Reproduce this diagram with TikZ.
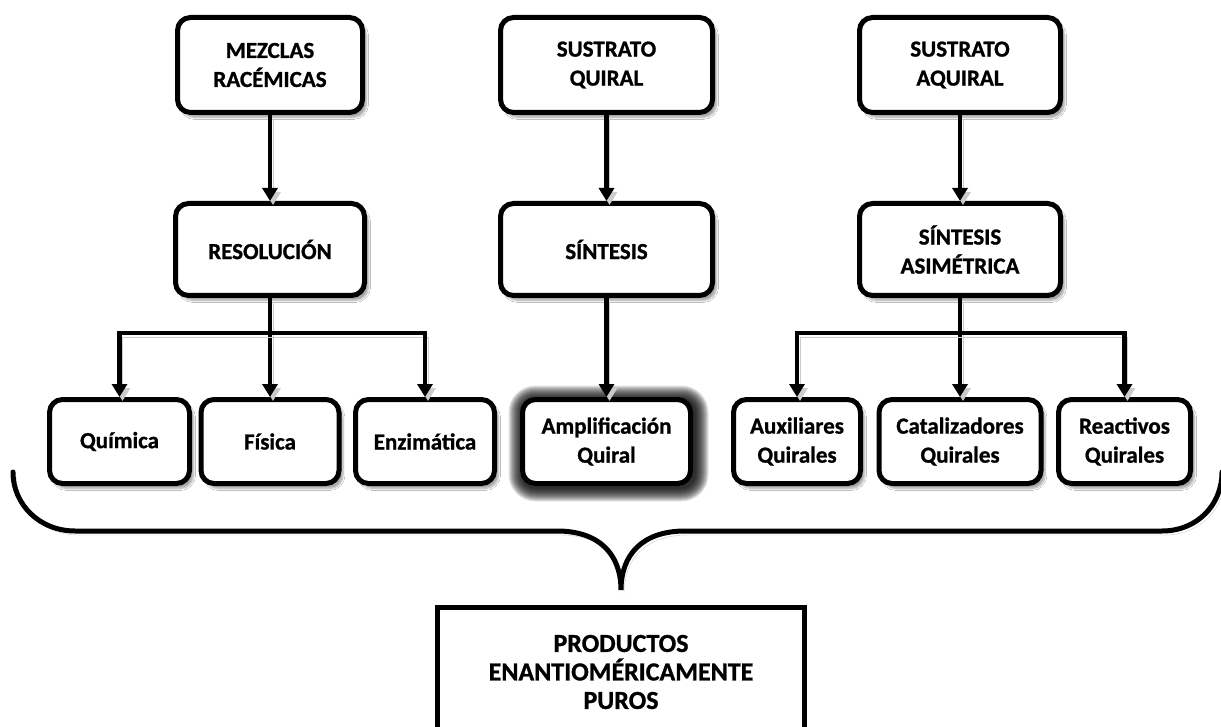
\documentclass[tikz,border=0pt]{standalone}
\usepackage{fontspec}
\setmainfont{Carlito}[BoldFeatures={FakeBold=1}]
\usetikzlibrary{arrows.meta,shadows.blur}
\tikzset{
  basebox/.style={draw=black, line width=5pt, rounded corners=13pt, fill=white,
    align=center, inner sep=0pt, text=black,
    font=\bfseries\fontsize{23}{29}\selectfont},
  box/.style={basebox,
    blur shadow={shadow xshift=4pt, shadow yshift=-5pt, shadow blur steps=6, shadow opacity=35}},
  glowlayer/.style={fill=black, fill opacity=0.11},
  lshadow/.style={preaction={draw=black!20, transform canvas={xshift=3pt,yshift=-4pt}}},
  conn/.style={line width=4.5pt, draw=black, lshadow},
  arr/.style={conn, -{Triangle[length=13pt,width=15pt]}},
  brace/.style={line width=5pt, draw=black, line cap=round, lshadow},
}
\begin{document}
\begin{tikzpicture}[x=1pt,y=-1pt]
\clip (0,0) rectangle (1221,727);
\fill[white] (0,0) rectangle (1221,727);
% glow behind the highlighted box
\foreach \i in {1,...,14}{
  \fill[glowlayer, rounded corners=13pt+\i pt] (522.5-\i,399.5-\i) rectangle (694.5+\i,487.5+\i);
}
% top row
\node[box, minimum width=185, minimum height=95] (mez) at (270,65) {MEZCLAS\\RACÉMICAS};
\node[box, minimum width=212, minimum height=95] (sq) at (606.5,65) {SUSTRATO\\QUIRAL};
\node[box, minimum width=201, minimum height=95] (sa) at (960,65) {SUSTRATO\\AQUIRAL};
% middle row
\node[box, minimum width=189, minimum height=92] (res) at (270,249.5) {RESOLUCIÓN};
\node[box, minimum width=212, minimum height=92] (sin) at (606.5,249.5) {SÍNTESIS};
\node[box, minimum width=201, minimum height=92] (sas) at (960,249.5) {SÍNTESIS\\ASIMÉTRICA};
% bottom row
\node[box, minimum width=140, minimum height=84] (qui) at (119.5,441.5) {Química};
\node[box, minimum width=138, minimum height=84] (fis) at (270,441.5) {Física};
\node[box, minimum width=139, minimum height=84] (enz) at (425,441.5) {Enzimática};
\node[basebox, minimum width=168, minimum height=84] (amp) at (606.5,441.5) {Amplificación\\Quiral};
\node[box, minimum width=127, minimum height=84] (aux) at (797,441.5) {Auxiliares\\Quirales};
\node[box, minimum width=162, minimum height=84] (cat) at (960,441.5) {Catalizadores\\Quirales};
\node[box, minimum width=132, minimum height=84] (rea) at (1124.5,441.5) {Reactivos\\Quirales};
% final box
\node[draw=black, line width=5pt, fill=white, align=center, inner sep=0pt,
  font=\bfseries\fontsize{26}{28.5}\selectfont, minimum width=367, minimum height=130] (prod) at (621,672)
  {PRODUCTOS\\ENANTIOMÉRICAMENTE\\PUROS};
% junctions
\coordinate (bl) at (270,333);
\coordinate (br) at (960,333);
\coordinate (b1) at (13,472);
\coordinate (b2) at (621,590);
\coordinate (b3) at (1222,472);
% connectors
\draw[arr] (mez.south) -- (res.north);
\draw[arr] (sq.south) -- (sin.north);
\draw[arr] (sa.south) -- (sas.north);
\draw[arr] (res.south) -- (fis.north);
\draw[arr] (sin.south) -- (amp.north);
\draw[arr] (sas.south) -- (cat.north);
\draw[arr] (bl) -| (qui.north);
\draw[arr] (bl) -| (enz.north);
\draw[arr] (br) -| (aux.north);
\draw[arr] (br) -| (rea.north);
% brace
\draw[brace] (b1) .. controls (13,505) and (40,531) .. (75,531) -- (557,531)
  .. controls (600,531) and (621,555) .. (b2)
  .. controls (621,555) and (642,531) .. (685,531) -- (1162,531)
  .. controls (1197,531) and (1222,505) .. (b3);
\end{tikzpicture}
\end{document}
